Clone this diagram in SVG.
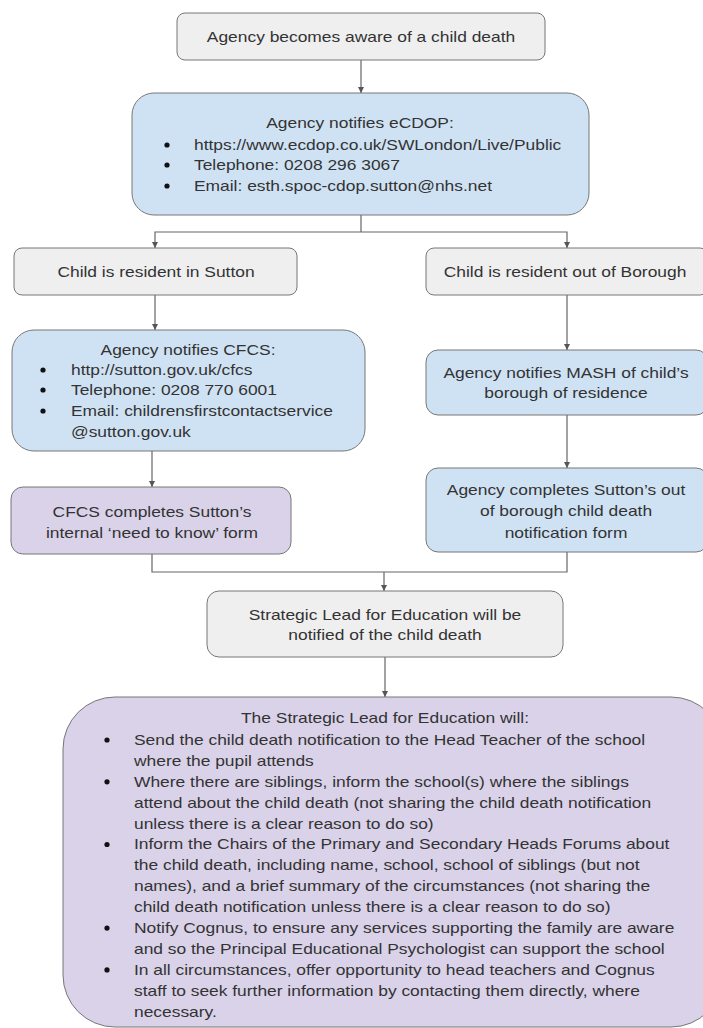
<svg xmlns="http://www.w3.org/2000/svg" width="703" height="1028" viewBox="0 0 703 1028">
<style>
.t{font-family:"Liberation Sans",Arial,sans-serif;font-size:15px;fill:#333}
.c{text-anchor:middle}
.box{stroke:#777;stroke-width:1}
.gray{fill:#efefef}
.blue{fill:#cfe2f3}
.lav{fill:#d9d2e9}
.conn{fill:none;stroke:#666;stroke-width:1.2}
.dot{fill:#111}
</style>
<defs>
<marker id="ah" viewBox="0 0 10 10" refX="10" refY="5" markerWidth="6" markerHeight="6" orient="auto" markerUnits="userSpaceOnUse">
<path d="M0,0 L10,5 L0,10 z" fill="#555"/>
</marker>
</defs>
<rect width="703" height="1028" fill="#fff"/>

<g id="connectors">
<path class="conn" d="M361,60 V93" marker-end="url(#ah)"/>
<path class="conn" d="M361,215 V232"/>
<path class="conn" d="M361,232 H155 V248" marker-end="url(#ah)"/>
<path class="conn" d="M361,232 H567 V248" marker-end="url(#ah)"/>
<path class="conn" d="M155,295 V330" marker-end="url(#ah)"/>
<path class="conn" d="M567,295 V350" marker-end="url(#ah)"/>
<path class="conn" d="M567,415 V468" marker-end="url(#ah)"/>
<path class="conn" d="M152,451 V487" marker-end="url(#ah)"/>
<path class="conn" d="M152,554 V572 H567 V552"/>
<path class="conn" d="M384,572 V591" marker-end="url(#ah)"/>
<path class="conn" d="M385,657 V697" marker-end="url(#ah)"/>
</g>

<g id="aware">
<rect class="box gray" x="177" y="13" width="368" height="47" rx="8"/>
<g transform="translate(361 0) scale(1.16 1)"><text class="t c" x="0" y="42">Agency becomes aware of a child death</text></g>
</g>

<g id="ecdop">
<rect class="box blue" x="132" y="93" width="457" height="122" rx="22"/>
<g transform="translate(360 0) scale(1.16 1)"><text class="t c" x="0" y="128">Agency notifies eCDOP:</text></g>
<circle class="dot" cx="167" cy="145" r="2.6"/>
<circle class="dot" cx="167" cy="165" r="2.6"/>
<circle class="dot" cx="167" cy="186" r="2.6"/>
<g transform="translate(194 0) scale(1.16 1)">
<text class="t" x="0" y="150">https://www.ecdop.co.uk/SWLondon/Live/Public</text>
<text class="t" x="0" y="170">Telephone: 0208 296 3067</text>
<text class="t" x="0" y="191">Email: esth.spoc-cdop.sutton@nhs.net</text>
</g>
</g>

<g id="sutton">
<rect class="box gray" x="14" y="248" width="283" height="47" rx="8"/>
<g transform="translate(156 0) scale(1.16 1)"><text class="t c" x="0" y="277">Child is resident in Sutton</text></g>
</g>

<g id="outborough">
<rect class="box gray" x="426" y="248" width="282" height="47" rx="8"/>
<g transform="translate(565 0) scale(1.16 1)"><text class="t c" x="0" y="277">Child is resident out of Borough</text></g>
</g>

<g id="cfcs">
<rect class="box blue" x="12" y="330" width="353" height="121" rx="22"/>
<g transform="translate(188 0) scale(1.16 1)"><text class="t c" x="0" y="355">Agency notifies CFCS:</text></g>
<circle class="dot" cx="43" cy="370" r="2.6"/>
<circle class="dot" cx="43" cy="390" r="2.6"/>
<circle class="dot" cx="43" cy="411" r="2.6"/>
<g transform="translate(71 0) scale(1.16 1)">
<text class="t" x="0" y="375">http://sutton.gov.uk/cfcs</text>
<text class="t" x="0" y="395">Telephone: 0208 770 6001</text>
<text class="t" x="0" y="416">Email: childrensfirstcontactservice</text>
<text class="t" x="0" y="437">@sutton.gov.uk</text>
</g>
</g>

<g id="mash">
<rect class="box blue" x="426" y="350" width="282" height="65" rx="12"/>
<g transform="translate(566 0) scale(1.16 1)">
<text class="t c" x="0" y="378">Agency notifies MASH of child’s</text>
<text class="t c" x="0" y="398">borough of residence</text>
</g>
</g>

<g id="outform">
<rect class="box blue" x="426" y="468" width="282" height="84" rx="12"/>
<g transform="translate(566 0) scale(1.16 1)">
<text class="t c" x="0" y="495">Agency completes Sutton’s out</text>
<text class="t c" x="0" y="516">of borough child death</text>
<text class="t c" x="0" y="538">notification form</text>
</g>
</g>

<g id="needtoknow">
<rect class="box lav" x="11" y="487" width="280" height="67" rx="12"/>
<g transform="translate(152 0) scale(1.16 1)">
<text class="t c" x="0" y="517">CFCS completes Sutton’s</text>
<text class="t c" x="0" y="538">internal ‘need to know’ form</text>
</g>
</g>

<g id="strategic">
<rect class="box gray" x="207" y="591" width="356" height="66" rx="12"/>
<g transform="translate(385 0) scale(1.16 1)">
<text class="t c" x="0" y="620">Strategic Lead for Education will be</text>
<text class="t c" x="0" y="640">notified of the child death</text>
</g>
</g>

<g id="actions">
<rect class="box lav" x="63" y="697" width="660" height="330" rx="52"/>
<g transform="translate(385 0) scale(1.16 1)"><text class="t c" x="0" y="723">The Strategic Lead for Education will:</text></g>
<circle class="dot" cx="107" cy="740" r="2.6"/>
<circle class="dot" cx="107" cy="781.8" r="2.6"/>
<circle class="dot" cx="107" cy="844.5" r="2.6"/>
<circle class="dot" cx="107" cy="928.1" r="2.6"/>
<circle class="dot" cx="107" cy="969.9" r="2.6"/>
<g transform="translate(134 0) scale(1.16 1)">
<text class="t" x="0" y="745">Send the child death notification to the Head Teacher of the school</text>
<text class="t" x="0" y="765.9">where the pupil attends</text>
<text class="t" x="0" y="786.8">Where there are siblings, inform the school(s) where the siblings</text>
<text class="t" x="0" y="807.7">attend about the child death (not sharing the child death notification</text>
<text class="t" x="0" y="828.6">unless there is a clear reason to do so)</text>
<text class="t" x="0" y="849.5">Inform the Chairs of the Primary and Secondary Heads Forums about</text>
<text class="t" x="0" y="870.4">the child death, including name, school, school of siblings (but not</text>
<text class="t" x="0" y="891.3">names), and a brief summary of the circumstances (not sharing the</text>
<text class="t" x="0" y="912.2">child death notification unless there is a clear reason to do so)</text>
<text class="t" x="0" y="933.1">Notify Cognus, to ensure any services supporting the family are aware</text>
<text class="t" x="0" y="954">and so the Principal Educational Psychologist can support the school</text>
<text class="t" x="0" y="974.9">In all circumstances, offer opportunity to head teachers and Cognus</text>
<text class="t" x="0" y="995.8">staff to seek further information by contacting them directly, where</text>
<text class="t" x="0" y="1016.7">necessary.</text>
</g>
</g>
</svg>
